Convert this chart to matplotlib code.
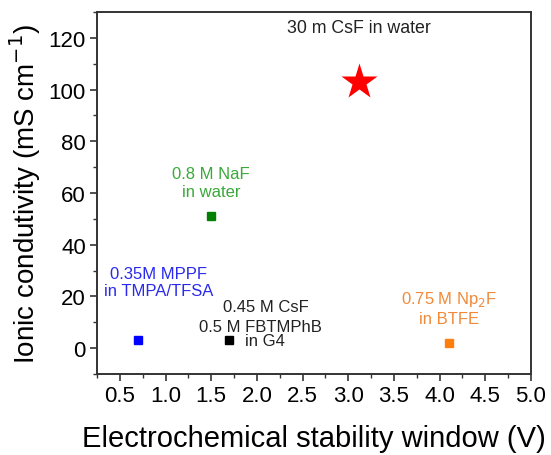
import matplotlib.pyplot as plt
from matplotlib.ticker import MultipleLocator

plt.rcParams['font.family'] = ['Liberation Sans', 'DejaVu Sans']

# --- Data ----------------------------------------------------------------
names = ["MPPF", "CsF/FBTMPhB", "NaF", "Np2F", "CsF water"]
esw = [0.7, 1.7, 1.5, 4.1, 3.12]          # electrochemical stability window (V)
sigma = [3, 3, 51, 2, 103]                # ionic conductivity (mS/cm)
marker_colors = ["#0000ff", "#000000", "#008000", "#ff7f0e", "#ff0000"]

fig = plt.figure(figsize=(5.51, 4.56), dpi=100)
ax = fig.add_axes([97 / 551, 1 - 375 / 456, (531 - 97) / 551, (375 - 13) / 456])

for x, y, c in zip(esw[:4], sigma[:4], marker_colors[:4]):
    ax.plot(x, y, "s", ms=5.5, color=c)
ax.plot(esw[4], sigma[4], "*", ms=27, color=marker_colors[4], mec="none")

# --- Annotations ---------------------------------------------------------
fs = 12
ax.text(3.12, 124, "30 m CsF in water", ha="center", va="center", fontsize=12.8, color="#222222")
ax.text(1.5, 64, "0.8 M NaF\nin water", ha="center", va="center", fontsize=fs,
        color="#3aa83a", linespacing=1.2)
ax.text(0.92, 25.5, "0.35M MPPF\nin TMPA/TFSA", ha="center", va="center", fontsize=fs,
        color="#2a2aee", linespacing=1.2)
ax.text(2.10, 16, "0.45 M CsF", ha="center", va="center", fontsize=fs, color="#222222")
ax.text(2.04, 8.5, "0.5 M FBTMPhB", ha="center", va="center", fontsize=fs, color="#222222")
ax.text(1.87, 3.1, "in G4", ha="left", va="center", fontsize=fs, color="#222222")
ax.text(4.1, 15.7, "0.75 M Np$_2$F\nin BTFE", ha="center", va="center", fontsize=fs,
        color="#f08a3a", linespacing=1.2)

# --- Axes ----------------------------------------------------------------
ax.set_xlim(0.25, 5.0)
ax.set_ylim(-10, 130)
ax.xaxis.set_minor_locator(MultipleLocator(0.25))
ax.yaxis.set_minor_locator(MultipleLocator(10))
ax.set_xticks([0.5, 1.0, 1.5, 2.0, 2.5, 3.0, 3.5, 4.0, 4.5, 5.0])
ax.set_yticks([0, 20, 40, 60, 80, 100, 120])
ax.tick_params(which="both", direction="out", top=False, right=False, color="#333333")
ax.tick_params(which="major", length=5, width=1.2, labelsize=16, pad=3)
ax.tick_params(which="minor", length=3, width=1.0)
for s in ax.spines.values():
    s.set_linewidth(1.4)
    s.set_color("#333333")

ax.set_xlabel("Electrochemical stability window (V)", fontsize=21, labelpad=13)
ax.set_ylabel("Ionic condutivity (mS cm$^{-1}$)", fontsize=20, labelpad=4)

fig.savefig("out.png", dpi=100)
